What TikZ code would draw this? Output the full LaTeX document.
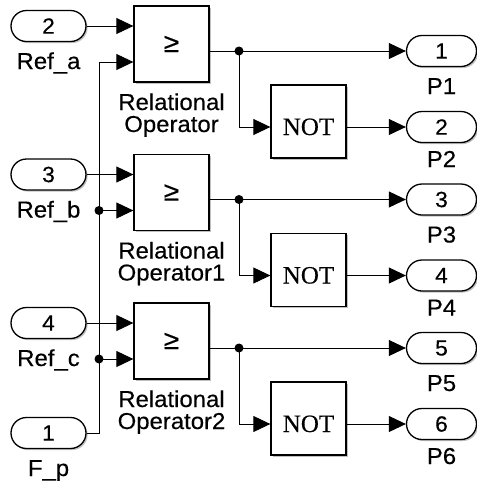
\documentclass[tikz,border=0pt]{standalone}
\usepackage{fontspec}
\setmainfont{Liberation Sans}[FakeStretch=1.04,FakeBold=0.35]
\newfontfamily\notfont{Liberation Serif}[FakeBold=0.3]
\usetikzlibrary{arrows.meta,shadows,shapes.misc}
\begin{document}
\begin{tikzpicture}[x=1pt,y=-1pt,
  conn/.style={line width=0.9pt},
  arr/.style={conn,-{Triangle[length=17pt,width=16pt]}},
  shad/.style={drop shadow={shadow xshift=1.6pt,shadow yshift=-1.6pt,fill=black!45,opacity=0.55}},
  blk/.style={draw,line width=1.3pt,fill=white,minimum width=75pt,minimum height=76pt,inner sep=0pt,shad,font=\fontsize{27}{27}\selectfont},
  notblk/.style={draw,line width=1.3pt,fill=white,minimum width=75pt,minimum height=73pt,inner sep=0pt,shad},
  nottxt/.style={anchor=base,inner sep=0pt,font=\notfont\fontsize{25}{25}\selectfont},
  pill/.style={draw,rounded rectangle,line width=1.3pt,fill=white,minimum width=75pt,minimum height=31pt,inner sep=0pt,shad,font=\fontsize{22}{22}\selectfont},
  opill/.style={pill,minimum width=70pt},
  lbl/.style={anchor=base,inner sep=0pt,font=\fontsize{23}{23}\selectfont},
  dot/.style={circle,fill,inner sep=0pt,minimum size=9pt}
]
\useasboundingbox (0,0) rectangle (477,483);
% ---------- inputs
\node[pill] (ra) at (48.5,26) {2};
\node[lbl] (rat) at (48.5,69) {Ref\_a};
\node[pill] (rb) at (48.5,174.5) {3};
\node[lbl] (rbt) at (48.5,217.5) {Ref\_b};
\node[pill] (rc) at (48.5,323) {4};
\node[lbl] (rct) at (48.5,366) {Ref\_c};
\node[pill] (fp) at (48.5,433) {1};
\node[lbl] (fpt) at (48.5,476) {F\_p};
% ---------- relational operators
\node[blk] (ba) at (171.5,44) {≥};
\node[blk] (bb) at (171.5,192.5) {≥};
\node[blk] (bc) at (171.5,341) {≥};
\node[lbl] (bat1) at (171.5,110) {Relational};
\node[lbl] (bat2) at (171.5,132) {Operator};
\node[lbl] (bbt1) at (171.5,258.5) {Relational};
\node[lbl] (bbt2) at (171.5,280.5) {Operator1};
\node[lbl] (bct1) at (171.5,407) {Relational};
\node[lbl] (bct2) at (171.5,429) {Operator2};
% ---------- NOT blocks
\node[notblk] (na) at (308.5,121.5) {};
\node[nottxt] (nat) at (308.5,135) {NOT};
\node[notblk] (nb) at (308.5,270) {};
\node[nottxt] (nbt) at (308.5,283.5) {NOT};
\node[notblk] (nc) at (308.5,418.5) {};
\node[nottxt] (nct) at (308.5,432) {NOT};
% ---------- outputs
\node[opill] (p1) at (441.5,51) {1};
\node[lbl] (p1t) at (441.5,94) {P1};
\node[opill] (p2) at (441.5,127) {2};
\node[lbl] (p2t) at (441.5,167) {P2};
\node[opill] (p3) at (441.5,199.5) {3};
\node[lbl] (p3t) at (441.5,242.5) {P3};
\node[opill] (p4) at (441.5,275.5) {4};
\node[lbl] (p4t) at (441.5,315.5) {P4};
\node[opill] (p5) at (441.5,348) {5};
\node[lbl] (p5t) at (441.5,391) {P5};
\node[opill] (p6) at (441.5,424) {6};
\node[lbl] (p6t) at (441.5,464) {P6};
% ---------- junctions
\coordinate (ja) at (99,62);
\node[dot] (jb) at (99,210.5) {};
\node[dot] (jc) at (99,359) {};
\node[dot] (oa) at (239,51) {};
\node[dot] (ob) at (239,199.5) {};
\node[dot] (oc) at (239,348) {};
\coordinate (qa) at (239,127);
\coordinate (qb) at (239,275.5);
\coordinate (qc) at (239,424);
% ---------- connectors
\draw[arr] (ra.east) -- (ra.east -| ba.west);
\draw[arr] (rb.east) -- (rb.east -| bb.west);
\draw[arr] (rc.east) -- (rc.east -| bc.west);
\draw[conn] (fp.east) -| (ja);
\draw[arr] (ja) -- (ja -| ba.west);
\draw[arr] (jb.center) -- (jb -| bb.west);
\draw[arr] (jc.center) -- (jc -| bc.west);
\draw[conn] (oa -| ba.east) -- (oa.center);
\draw[conn] (ob -| bb.east) -- (ob.center);
\draw[conn] (oc -| bc.east) -- (oc.center);
\draw[arr] (oa.center) -- (oa -| p1.west);
\draw[arr] (ob.center) -- (ob -| p3.west);
\draw[arr] (oc.center) -- (oc -| p5.west);
\draw[conn] (oa.center) -- (qa);
\draw[conn] (ob.center) -- (qb);
\draw[conn] (oc.center) -- (qc);
\draw[arr] (qa) -- (qa -| na.west);
\draw[arr] (qb) -- (qb -| nb.west);
\draw[arr] (qc) -- (qc -| nc.west);
\draw[arr] (qa -| na.east) -- (qa -| p2.west);
\draw[arr] (qb -| nb.east) -- (qb -| p4.west);
\draw[arr] (qc -| nc.east) -- (qc -| p6.west);
\end{tikzpicture}
\end{document}
